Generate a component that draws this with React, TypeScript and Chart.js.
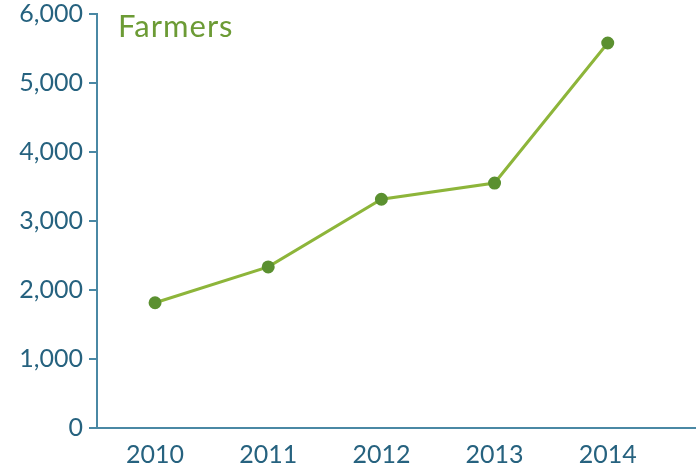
import React, { useEffect, useRef } from "react";
import { Chart, registerables } from "chart.js";

Chart.register(...registerables);

const years = [2010, 2011, 2012, 2013, 2014];
const farmers = [1815, 2335, 3315, 3550, 5580];
const yTicks = [0, 1000, 2000, 3000, 4000, 5000, 6000];
const titleText = "Farmers";

const AXIS = "#4a88a4";
const LABEL = "#26627f";
const LINE = "#8db53a";
const POINT = "#5b9030";
const TITLE = "#6c9b35";
const FONT = "Lato, 'Open Sans', sans-serif";

const titlePlugin = {
  id: "insideTitle",
  afterDraw(chart: any) {
    const { ctx, chartArea } = chart;
    ctx.save();
    ctx.fillStyle = TITLE;
    ctx.font = `31px ${FONT}`;
    try {
      (ctx as any).letterSpacing = "1px";
    } catch (e) {}
    ctx.textBaseline = "alphabetic";
    ctx.textAlign = "left";
    ctx.fillText(titleText, chartArea.left + 21, chartArea.top + 23);
    ctx.restore();
  },
};

export default function App() {
  const ref = useRef<HTMLCanvasElement>(null);
  useEffect(() => {
    document.body.style.margin = "0";
    const chart = new Chart(ref.current!, {
      type: "line",
      data: {
        datasets: [
          {
            data: years.map((y, i) => ({ x: y, y: farmers[i] })),
            borderColor: LINE,
            borderWidth: 3,
            pointBackgroundColor: POINT,
            pointBorderColor: POINT,
            pointRadius: 5,
            tension: 0,
            clip: false,
          },
        ],
      },
      options: {
        animation: false,
        responsive: false,
        maintainAspectRatio: false,
        layout: { autoPadding: false, padding: { top: 14, right: 0, left: 0, bottom: 0 } },
        plugins: { legend: { display: false }, tooltip: { enabled: false } },
        scales: {
          x: {
            type: "linear",
            min: 2009.487,
            max: 2014.78,
            afterBuildTicks(scale: any) {
              scale.ticks = years.map((v) => ({ value: v }));
            },
            afterFit(scale: any) {
              scale.height = 40;
              scale.paddingLeft = 0;
              scale.paddingRight = 0;
            },
            ticks: {
              color: LABEL,
              font: { family: FONT, size: 25 },
              padding: 12,
              callback: (v: any) => String(v),
              autoSkip: false,
              maxRotation: 0,
            },
            grid: { display: true, drawOnChartArea: false, drawTicks: false },
            border: { color: AXIS, width: 2 },
          },
          y: {
            min: 0,
            max: 6000,
            afterBuildTicks(scale: any) {
              scale.ticks = yTicks.map((v) => ({ value: v }));
            },
            afterFit(scale: any) {
              scale.width = 97;
              scale.paddingTop = 0;
              scale.paddingBottom = 0;
            },
            ticks: {
              color: LABEL,
              font: { family: FONT, size: 25 },
              padding: 6,
              callback: (v: any) => Number(v).toLocaleString("en-US"),
            },
            grid: {
              drawOnChartArea: false,
              drawTicks: true,
              tickLength: 8,
              color: AXIS,
              lineWidth: 2,
            },
            border: { color: AXIS, width: 2 },
          },
        },
      },
      plugins: [titlePlugin],
    } as any);
    return () => chart.destroy();
  }, []);
  return (
    <div style={{ position: "absolute", left: 0, top: 0, width: 696, height: 468, background: "#fff" }}>
      <canvas ref={ref} width={696} height={468} />
    </div>
  );
}
